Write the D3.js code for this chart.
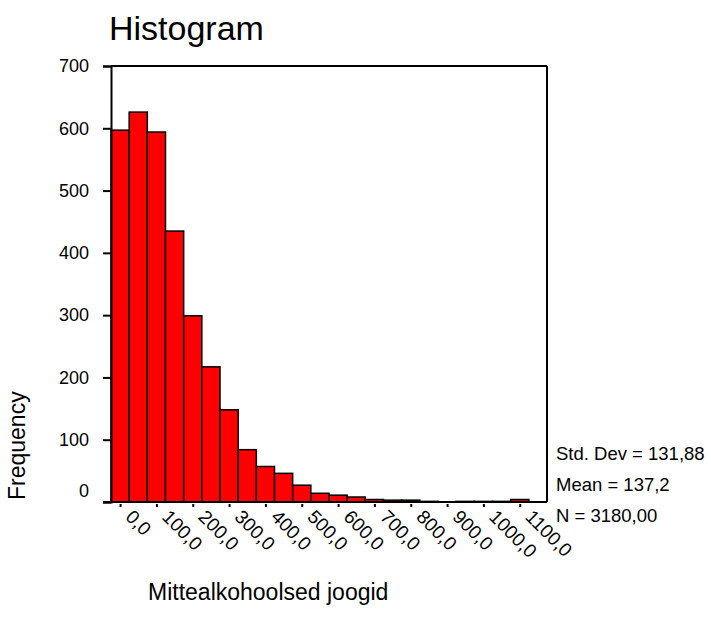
<!DOCTYPE html>
<html>
<head>
<meta charset="utf-8">
<script src="https://cdn.jsdelivr.net/npm/d3@7"></script>
<style>
  html, body { margin: 0; padding: 0; background: #fff; }
  svg { display: block; font-family: "Liberation Sans", Arial, sans-serif; }
</style>
</head>
<body>
<svg id="chart" width="711" height="622"></svg>
<script>
// ---- data ----
const binCenters = [0,50,100,150,200,250,300,350,400,450,500,550,600,650,700,750,800,850,900,950,1000,1050,1100,1150];
const frequencies = [597,626,594,435,299,217,148,84,57,46,27,14,11,8,4,3,3,1,0,1,1,1,4,0];
const xTickValues = [0,100,200,300,400,500,600,700,800,900,1000,1100];
const xTickLabels = ["0,0","100,0","200,0","300,0","400,0","500,0","600,0","700,0","800,0","900,0","1000,0","1100,0"];
const yTickValues = [0,100,200,300,400,500,600,700];
const statLines = ["Std. Dev = 131,88","Mean = 137,2","N = 3180,00"];
const binWidth = 50;

(function () {
const svg = d3.select("#chart");
const pLeft = 111, pRight = 547, pTop = 66, pBottom = 502;

const x = d3.scaleLinear().domain([-25, 1175]).range([pLeft, pRight]);
const y = d3.scaleLinear().domain([0, 700]).range([pBottom, pTop]);

// title
svg.append("text").attr("x", 109).attr("y", 40)
  .attr("font-size", 34).attr("fill", "#000").text("Histogram");

// bars
svg.append("g").selectAll("rect").data(binCenters).join("rect")
  .attr("x", (d) => x(d - binWidth/2))
  .attr("width", (d) => x(d + binWidth/2) - x(d - binWidth/2))
  .attr("y", (d, i) => y(frequencies[i]))
  .attr("height", (d, i) => y(0) - y(frequencies[i]))
  .attr("fill", "#ff0000")
  .attr("stroke", "#000")
  .attr("stroke-width", 1.5);

// frame (top and right)
svg.append("line").attr("x1", pLeft).attr("x2", pRight).attr("y1", pTop).attr("y2", pTop)
  .attr("stroke", "#000").attr("stroke-width", 2);
svg.append("line").attr("x1", pRight).attr("x2", pRight).attr("y1", pTop).attr("y2", pBottom)
  .attr("stroke", "#000").attr("stroke-width", 2);

// y axis
const yAxis = d3.axisLeft(y).tickValues(yTickValues).tickSize(8).tickPadding(14);
const gy = svg.append("g").attr("transform", `translate(${pLeft},0)`).call(yAxis);
gy.select(".domain").attr("stroke-width", 2);
gy.selectAll(".tick line").attr("stroke-width", 2);
gy.selectAll(".tick text").attr("font-size", 18).attr("font-family", "Liberation Sans, Arial, sans-serif")
  .attr("fill", "#000")
  .attr("dy", (d) => d === 0 ? "-0.3em" : "0.32em");

// x axis
const xAxis = d3.axisBottom(x).tickValues(xTickValues).tickSize(0).tickFormat((d, i) => xTickLabels[i]);
const gx = svg.append("g").attr("transform", `translate(0,${pBottom})`).call(xAxis);
gx.select(".domain").remove();
gx.selectAll(".tick line").remove();
gx.selectAll(".tick").append("line").attr("y1", 2).attr("y2", 5).attr("stroke", "#000").attr("stroke-width", 2);
gx.selectAll(".tick text")
  .attr("font-size", 19).attr("font-family", "Liberation Sans, Arial, sans-serif").attr("fill", "#000")
  .attr("text-anchor", "start").attr("dy", null).attr("y", null)
  .attr("transform", "translate(4,16) rotate(45)");
// baseline extended left
svg.append("line").attr("x1", pLeft - 8).attr("x2", pRight).attr("y1", pBottom).attr("y2", pBottom)
  .attr("stroke", "#000").attr("stroke-width", 2);

// axis titles
svg.append("text").attr("x", 148).attr("y", 600).attr("font-size", 23).attr("fill", "#000")
  .text("Mittealkohoolsed joogid");
svg.append("text").attr("transform", "translate(25,500) rotate(-90)").attr("font-size", 23).attr("fill", "#000")
  .text("Frequency");

// stats
svg.append("g").selectAll("text").data(statLines).join("text")
  .attr("x", 556).attr("y", (d, i) => 460 + i * 31)
  .attr("font-size", 18.5).attr("fill", "#000").text((d) => d);
})();
</script>
</body>
</html>
